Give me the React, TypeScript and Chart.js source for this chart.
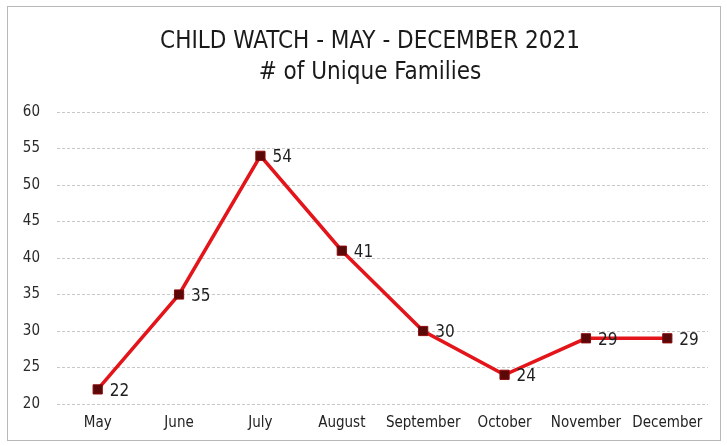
import React, { useEffect, useRef } from "react";
import { Chart, registerables } from "chart.js";

Chart.register(...registerables);

const months = ["May", "June", "July", "August", "September", "October", "November", "December"];
const families = [22, 35, 54, 41, 30, 24, 29, 29];
const titleLines = ["CHILD WATCH - MAY - DECEMBER 2021", "# of Unique Families"];
const yMin = 20;
const yMax = 60;
const yStep = 5;

const FONT = "'Liberation Sans Narrow', 'DejaVu Sans Condensed', 'Liberation Sans', sans-serif";

const framePlugin = {
  id: "frame",
  beforeDraw(chart: any) {
    const ctx = chart.ctx;
    ctx.save();
    ctx.fillStyle = "#ffffff";
    ctx.fillRect(0, 0, chart.width, chart.height);
    ctx.strokeStyle = "#b8b8b8";
    ctx.lineWidth = 1;
    ctx.strokeRect(7.5, 6.5, 713, 434);
    // title, centred over the framed area
    ctx.font = `24px ${FONT}`;
    ctx.fillStyle = "#1a1a1a";
    ctx.textAlign = "center";
    ctx.textBaseline = "middle";
    const cx = 370;
    titleLines.forEach((line, i) => {
      ctx.fillText(line, cx, 42 + i * 31);
    });
    ctx.restore();
  },
};

const labelPlugin = {
  id: "valueLabels",
  afterDatasetsDraw(chart: any) {
    const ctx = chart.ctx;
    const meta = chart.getDatasetMeta(0);
    const data = chart.data.datasets[0].data;
    ctx.save();
    ctx.font = `17px ${FONT}`;
    ctx.fillStyle = "#1f1f1f";
    ctx.textAlign = "left";
    ctx.textBaseline = "middle";
    meta.data.forEach((pt: any, i: number) => {
      ctx.fillText(String(data[i]), pt.x + 12, pt.y + 2);
    });
    ctx.restore();
  },
};

export default function App() {
  const ref = useRef<HTMLCanvasElement>(null);
  useEffect(() => {
    if (!ref.current) return;
    const chart = new Chart(ref.current, {
      type: "line",
      data: {
        labels: months,
        datasets: [
          {
            data: families,
            borderColor: "#e3151a",
            borderWidth: 3.5,
            pointStyle: "rect",
            pointRadius: 6.5,
            pointBackgroundColor: "#5a0808",
            pointBorderColor: "#8a0a0a",
            pointBorderWidth: 1,
            tension: 0,
          },
        ],
      },
      options: {
        responsive: false,
        animation: false,
        layout: { padding: { left: 0, right: 19, top: 112, bottom: 0 } },
        plugins: {
          legend: { display: false },
          tooltip: { enabled: false },
          title: { display: false },
        },
        scales: {
          x: {
            offset: true,
            grid: { display: false, drawTicks: false },
            border: { display: false },
            ticks: { color: "#222222", font: { family: FONT, size: 15 }, padding: 10, maxRotation: 0, autoSkip: false },
            afterFit: (s: any) => {
              s.height = 42;
            },
          },
          y: {
            min: yMin,
            max: yMax,
            ticks: { stepSize: yStep, color: "#2a2a2a", font: { family: FONT, size: 15 }, padding: 17 },
            grid: { color: "#c8c8c8", drawTicks: false, lineWidth: 1 },
            border: { display: false, dash: [3, 2] },
            afterFit: (s: any) => {
              s.width = 57;
            },
          },
        },
      },
      plugins: [framePlugin, labelPlugin],
    });
    return () => chart.destroy();
  }, []);
  return (
    <div style={{ position: "fixed", left: 0, top: 0, width: 727, height: 446 }}>
      <canvas ref={ref} width={727} height={446} />
    </div>
  );
}
